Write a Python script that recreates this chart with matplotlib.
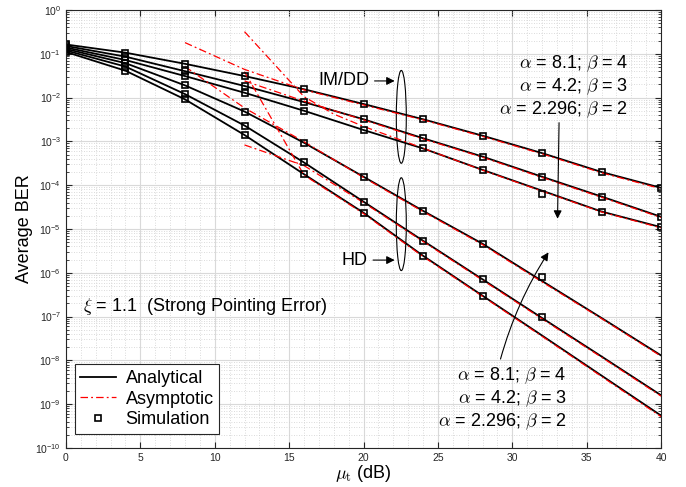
import numpy as np
import matplotlib
matplotlib.use("Agg")
import matplotlib.pyplot as plt
from matplotlib.patches import Ellipse
from matplotlib.ticker import LogLocator, FixedLocator, MultipleLocator, FuncFormatter, NullFormatter

plt.rcParams['font.family'] = ['Liberation Sans', 'DejaVu Sans']
plt.rcParams['mathtext.fontset'] = 'cm'

# SNR grid (dB)
snr = [0, 4, 8, 12, 16, 20, 24, 28, 32, 36, 40]

# analytical BER, IM/DD (alpha=8.1/4.2/2.296) and HD
ana_im1 = [0.163, 0.106, 0.059, 0.031, 0.0155, 7.14e-3, 3.2e-3, 1.35e-3, 5.4e-4, 2.0e-4, 8.7e-5]
ana_im2 = [0.151, 0.086, 0.040, 0.0184, 7.9e-3, 3.2e-3, 1.18e-3, 4.5e-4, 1.56e-4, 5.5e-5, 1.9e-5]
ana_im3 = [0.139, 0.072, 0.031, 0.0129, 5.0e-3, 1.82e-3, 6.9e-4, 2.24e-4, 7.5e-5, 2.5e-5, 1.1e-5]
ana_hd1 = [0.129, 0.061, 0.019, 4.8e-3, 9.3e-4, 1.56e-4, 2.6e-5, 4.6e-6, 6.5e-7, 9.3e-8, 1.3e-8]
ana_hd2 = [0.119, 0.051, 0.012, 2.3e-3, 3.3e-4, 4.2e-5, 5.4e-6, 7.1e-7, 9.3e-8, 1.23e-8, 1.6e-9]
ana_hd3 = [0.110, 0.041, 9.1e-3, 1.4e-3, 1.78e-4, 2.35e-5, 2.45e-6, 3.0e-7, 3.7e-8, 4.5e-9, 5.5e-10]

# simulation points (nan = not simulated)
sim_im1 = [0.163, 0.106, 0.059, 0.031, 0.0155, 7.14e-3, 3.2e-3, 1.35e-3, 5.4e-4, 2.0e-4, 8.7e-5]
sim_im2 = [0.151, 0.086, 0.040, 0.0184, 7.9e-3, 3.2e-3, 1.18e-3, 4.5e-4, 1.56e-4, 5.5e-5, 1.9e-5]
sim_im3 = [0.139, 0.072, 0.031, 0.0129, 5.0e-3, 1.82e-3, 6.9e-4, 2.24e-4, 6.2e-5, 2.5e-5, 1.1e-5]
sim_hd1 = [0.129, 0.061, 0.019, 4.8e-3, 9.3e-4, 1.56e-4, 2.6e-5, 4.6e-6, 8.1e-7, np.nan, np.nan]
sim_hd2 = [0.119, 0.051, 0.012, 2.3e-3, 3.3e-4, 4.2e-5, 5.4e-6, 7.1e-7, 1.0e-7, np.nan, np.nan]
sim_hd3 = [0.110, 0.041, 9.1e-3, 1.4e-3, 1.78e-4, 2.35e-5, 2.45e-6, 3.0e-7, np.nan, np.nan, np.nan]

# asymptotic curves
x_as_im1 = [8, 12, 16, 20, 24, 28, 32, 36, 40]
as_im1 = [0.18, 0.044, 0.0150, 6.8e-3, 3.1e-3, 1.30e-3, 5.2e-4, 1.92e-4, 8.3e-5]
x_as_im2 = [12, 16, 20, 24, 28, 32, 36, 40]
as_im2 = [0.024, 8.3e-3, 3.1e-3, 1.14e-3, 4.35e-4, 1.5e-4, 5.3e-5, 1.83e-5]
x_as_im3 = [12, 16, 18, 20, 24, 28, 32, 36, 40]
as_im3 = [0.32, 0.0105, 4.2e-3, 2.2e-3, 7.0e-4, 2.2e-4, 7.3e-5, 2.45e-5, 1.06e-5]
x_as_hd1 = [8, 12, 16, 20, 24, 28, 32, 36, 40]
as_hd1 = [0.051, 5.8e-3, 9.8e-4, 1.5e-4, 2.5e-5, 4.4e-6, 6.2e-7, 9.0e-8, 1.25e-8]
x_as_hd2 = [12, 16, 20, 24, 28, 32, 36, 40]
as_hd2 = [8.3e-4, 2.8e-4, 4.0e-5, 5.2e-6, 6.8e-7, 8.9e-8, 1.18e-8, 1.53e-9]
x_as_hd3 = [12, 16, 20, 24, 28, 32, 36, 40]
as_hd3 = [0.039, 1.7e-4, 2.25e-5, 2.35e-6, 2.9e-7, 3.55e-8, 4.3e-9, 5.2e-10]

fig = plt.figure(figsize=(6.86, 4.87), dpi=100)
ax = fig.add_axes([0.0962, 0.0801, 0.8674, 0.8994])

dashdot = (0, (6, 2.5, 1.5, 2.5))
for i, y in enumerate([ana_im1, ana_im2, ana_im3, ana_hd1, ana_hd2, ana_hd3]):
    ax.plot(snr, y, color='black', lw=1.3, label='Analytical' if i == 0 else None)
asym = [(x_as_im1, as_im1), (x_as_im2, as_im2), (x_as_im3, as_im3),
        (x_as_hd1, as_hd1), (x_as_hd2, as_hd2), (x_as_hd3, as_hd3)]
for i, (xa, ya) in enumerate(asym):
    ax.plot(xa, ya, color='red', lw=0.9, ls=dashdot, label='Asymptotic' if i == 0 else None)
for i, y in enumerate([sim_im1, sim_im2, sim_im3, sim_hd1, sim_hd2, sim_hd3]):
    ax.plot(snr, y, ls='none', marker='s', ms=4.8, mfc='none', mec='black', mew=1.2,
            label='Simulation' if i == 0 else None)

ax.set_yscale('log')
ax.set_xlim(0, 40)
ax.set_ylim(1e-10, 1)
ax.xaxis.set_major_locator(MultipleLocator(5))
ax.xaxis.set_minor_locator(MultipleLocator(1))
ax.yaxis.set_major_locator(FixedLocator([10.0 ** k for k in range(-10, 1)]))
ax.yaxis.set_minor_locator(LogLocator(base=10, subs=np.arange(2, 10), numticks=20))
ax.yaxis.set_minor_formatter(NullFormatter())
ax.yaxis.set_major_formatter(FuncFormatter(lambda v, p: r'$\mathregular{10^{%d}}$' % round(np.log10(v))))

tc = '#262626'
ax.tick_params(which='both', direction='in', top=True, right=True, colors=tc, labelsize=7.5)
ax.tick_params(which='major', length=4)
ax.tick_params(axis='y', which='minor', length=2)
ax.tick_params(axis='x', which='minor', length=0)
for s in ax.spines.values():
    s.set_color(tc)
    s.set_linewidth(0.8)
ax.grid(which='major', color='#d9d9d9', lw=0.8)
ax.grid(which='minor', color='#cfcfcf', ls=(0, (1, 2)), lw=0.6)
ax.set_axisbelow(True)

ax.set_xlabel(r'$\mu_{\rm t}$ (dB)', fontsize=13, labelpad=0)
ax.set_ylabel('Average BER', fontsize=13, labelpad=2)

leg = ax.legend(loc='lower left', bbox_to_anchor=(0.015, 0.033), borderaxespad=0, fontsize=13,
                fancybox=False, edgecolor=tc, framealpha=1, handlelength=2.0, handletextpad=0.5,
                borderpad=0.3, labelspacing=0.2)
leg.get_frame().set_linewidth(0.8)

ax.text(0.0286, 0.3226, r'$\xi$ = 1.1  (Strong Pointing Error)', transform=ax.transAxes,
        fontsize=13, va='center', ha='left')

# IM/DD and HD groups
arr = dict(arrowstyle='-|>', color='black', lw=0.8, mutation_scale=12)
for cy in [0.756, 0.511]:
    ax.add_patch(Ellipse((0.5635, cy), 0.0168, 0.212, transform=ax.transAxes,
                         fill=False, ec='black', lw=0.8))
ax.annotate('IM/DD', xy=(0.557, 0.838), xytext=(0.4235, 0.838), xycoords='axes fraction',
            textcoords='axes fraction', fontsize=13, va='center', ha='left', arrowprops=arr)
ax.annotate('HD', xy=(0.557, 0.429), xytext=(0.463, 0.429), xycoords='axes fraction',
            textcoords='axes fraction', fontsize=13, va='center', ha='left', arrowprops=arr)

labels = [r'$\alpha$ = 8.1; $\beta$ = 4', r'$\alpha$ = 4.2; $\beta$ = 3', r'$\alpha$ = 2.296; $\beta$ = 2']
for t, y in zip(labels, [0.878, 0.825, 0.773]):
    ax.text(0.9445, y, t, transform=ax.transAxes, fontsize=13, ha='right', va='center')
ax.annotate('', xy=(0.826, 0.517), xytext=(0.8287, 0.749), xycoords='axes fraction',
            textcoords='axes fraction', arrowprops=arr)

for t, y in zip(labels, [0.165, 0.112, 0.060]):
    ax.text(0.8415, y, t, transform=ax.transAxes, fontsize=13, ha='right', va='center')
ax.annotate('', xy=(0.8134, 0.452), xytext=(0.729, 0.197), xycoords='axes fraction',
            textcoords='axes fraction',
            arrowprops=dict(arr, connectionstyle='arc3,rad=-0.08'))

fig.savefig('out.png', dpi=100)
